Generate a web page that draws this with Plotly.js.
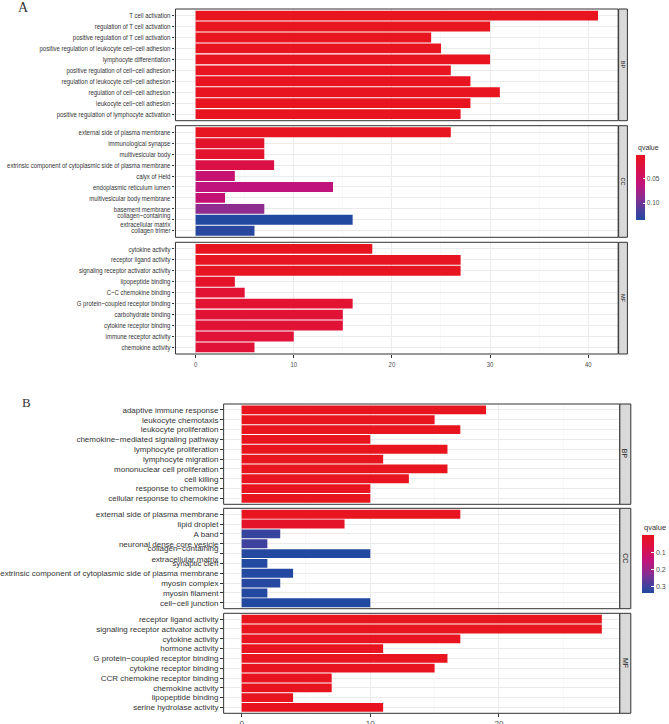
<!DOCTYPE html>
<html>
<head>
<meta charset="utf-8">
<script src="https://cdn.plot.ly/plotly-3.0.1.min.js"></script>
<style>html,body{margin:0;padding:0;background:#fff;}#chart{width:669px;height:724px;}</style>
</head>
<body>
<div id="chart"></div>
<script>
// ---------------- DATA ----------------
// Panel A
var aBpTerms = ["T cell activation","regulation of T cell activation","positive regulation of T cell activation","positive regulation of leukocyte cell\u2212cell adhesion","lymphocyte differentiation","positive regulation of cell\u2212cell adhesion","regulation of leukocyte cell\u2212cell adhesion","regulation of cell\u2212cell adhesion","leukocyte cell\u2212cell adhesion","positive regulation of lymphocyte activation"];
var aBpCounts = [41,30,24,25,30,26,28,31,28,27];
var aBpQ = [0.0005,0.0005,0.001,0.001,0.001,0.001,0.001,0.001,0.001,0.001];

var aCcTerms = ["external side of plasma membrane","immunological synapse","multivesicular body","extrinsic component of cytoplasmic side of plasma membrane","calyx of Held","endoplasmic reticulum lumen","multivesicular body membrane","basement membrane","collagen\u2212containing<br>extracellular matrix","collagen trimer"];
var aCcCounts = [26,7,7,8,4,14,3,7,16,6];
var aCcQ = [0.003,0.01,0.012,0.027,0.054,0.061,0.056,0.088,0.135,0.131];

var aMfTerms = ["cytokine activity","receptor ligand activity","signaling receptor activator activity","lipopeptide binding","C\u2212C chemokine binding","G protein\u2212coupled receptor binding","carbohydrate binding","cytokine receptor binding","immune receptor activity","chemokine activity"];
var aMfCounts = [18,27,27,4,5,16,15,15,10,6];
var aMfQ = [0.002,0.003,0.003,0.008,0.015,0.014,0.016,0.016,0.017,0.018];

var aTicks = [0,10,20,30,40];
var aLegendTicks = [0.05,0.10];
var aLegendLabels = ["0.05","0.10"];

// Panel B
var bBpTerms = ["adaptive immune response","leukocyte chemotaxis","leukocyte proliferation","chemokine\u2212mediated signaling pathway","lymphocyte proliferation","lymphocyte migration","mononuclear cell proliferation","cell killing","response to chemokine","cellular response to chemokine"];
var bBpCounts = [19,15,17,10,16,11,16,13,10,10];
var bBpQ = [0.001,0.001,0.001,0.001,0.001,0.001,0.001,0.002,0.002,0.002];

var bCcTerms = ["external side of plasma membrane","lipid droplet","A band","neuronal dense core vesicle","collagen\u2212containing<br>extracellular matrix","synaptic cleft","extrinsic component of cytoplasmic side of plasma membrane","myosin complex","myosin filament","cell\u2212cell junction"];
var bCcCounts = [17,8,3,2,10,2,4,3,2,10];
var bCcQ = [0.002,0.02,0.31,0.30,0.335,0.335,0.335,0.332,0.335,0.337];

var bMfTerms = ["receptor ligand activity","signaling receptor activator activity","cytokine activity","hormone activity","G protein\u2212coupled receptor binding","cytokine receptor binding","CCR chemokine receptor binding","chemokine activity","lipopeptide binding","serine hydrolase activity"];
var bMfCounts = [28,28,17,11,16,15,7,7,4,11];
var bMfQ = [0.001,0.001,0.002,0.003,0.002,0.002,0.004,0.004,0.006,0.004];

var bTicks = [0,10,20];
var bLegendTicks = [0.1,0.2,0.3];
var bLegendLabels = ["0.1","0.2","0.3"];

var facetLabels = ["BP","CC","MF"];

// ---------------- LAYOUT HELPERS ----------------
var W = 669, H = 724;
function dy(top, bottom){ return [1 - bottom/H, 1 - top/H]; }
function dx(left, right){ return [left/W, right/W]; }
function neg(a){ return a.map(function(v){ return -v; }); }
function maxOf(a){ return Math.max.apply(null, a); }
function minOf(a){ return Math.min.apply(null, a); }

var sans = "Liberation Sans, Arial, Helvetica, sans-serif";
var NARROW = 0.79; // horizontal squeeze for panel A text (narrow face)

var scale = [[0,'#2249A0'],[0.15,'#4A3F9C'],[0.35,'#8E2C8F'],[0.55,'#C0137C'],[0.75,'#D81050'],[1,'#E8141E']];

var panels = [
  {terms:aBpTerms, counts:aBpCounts, q:aBpQ, ca:'coloraxis'},
  {terms:aCcTerms, counts:aCcCounts, q:aCcQ, ca:'coloraxis'},
  {terms:aMfTerms, counts:aMfCounts, q:aMfQ, ca:'coloraxis'},
  {terms:bBpTerms, counts:bBpCounts, q:bBpQ, ca:'coloraxis2'},
  {terms:bCcTerms, counts:bCcCounts, q:bCcQ, ca:'coloraxis2'},
  {terms:bMfTerms, counts:bMfCounts, q:bMfQ, ca:'coloraxis2'}
];

var traces = panels.map(function(p, i){
  var s = i === 0 ? '' : String(i+1);
  return {
    type:'bar', orientation:'h',
    x:p.counts, y:p.terms,
    xaxis:'x'+s, yaxis:'y'+s,
    marker:{color:neg(p.q), coloraxis:p.ca, line:{width:0}},
    hoverinfo:'x+y'
  };
});

var aAllQ = aBpQ.concat(aCcQ, aMfQ);
var bAllQ = bBpQ.concat(bCcQ, bMfQ);
var aMax = maxOf(aBpCounts.concat(aCcCounts, aMfCounts));
var bMax = maxOf(bBpCounts.concat(bCcCounts, bMfCounts));

var layout = {
  width:W, height:H,
  margin:{l:0,r:0,t:0,b:0},
  paper_bgcolor:'#ffffff', plot_bgcolor:'#ffffff',
  showlegend:false,
  bargap:0.1,
  font:{family:sans, color:'#333333'},
  coloraxis:{
    colorscale:scale, cmin:-maxOf(aAllQ), cmax:-minOf(aAllQ),
    colorbar:{x:638/W, xanchor:'left', y:1-155/H, yanchor:'top',
      len:65, lenmode:'pixels', thickness:9, thicknessmode:'pixels',
      outlinewidth:0, xpad:0, ypad:0,
      tickvals:neg(aLegendTicks), ticktext:aLegendLabels,
      ticks:'inside', ticklen:2, tickcolor:'#ffffff', tickwidth:1,
      tickfont:{family:sans, size:6.5, color:'#4d4d4d'}}
  },
  coloraxis2:{
    colorscale:scale, cmin:-maxOf(bAllQ), cmax:-minOf(bAllQ),
    colorbar:{x:644/W, xanchor:'left', y:1-535/H, yanchor:'top',
      len:57.7, lenmode:'pixels', thickness:12, thicknessmode:'pixels',
      outlinewidth:0, xpad:0, ypad:0,
      tickvals:neg(bLegendTicks), ticktext:bLegendLabels,
      ticks:'inside', ticklen:2.5, tickcolor:'#ffffff', tickwidth:1,
      tickfont:{family:sans, size:7, color:'#4d4d4d'}}
  },
  shapes:[], annotations:[]
};

var aX = dx(176, 620), bX = dx(224.3, 621.7);
var yDomains = [dy(9,120.7), dy(125.7,237.3), dy(242.3,354), dy(404,504.3), dy(508.3,608.7), dy(613.3,713.3)];
var stripX = [[620.5,629.3],[620.5,629.3],[620.5,629.3],[621.7,632.7],[621.7,632.7],[621.7,632.7]];

panels.forEach(function(p, i){
  var s = i === 0 ? '' : String(i+1);
  var isA = i < 3;
  var isBottom = (i === 2 || i === 5);
  var xmax = isA ? aMax : bMax;
  var n = p.terms.length;
  layout['xaxis'+s] = {
    domain: isA ? aX : bX,
    anchor:'y'+s,
    range:[-0.05*xmax, 1.05*xmax],
    tickmode:'array', tickvals: isA ? aTicks : bTicks,
    showticklabels:isBottom,
    ticks:isBottom ? 'outside' : '',
    ticklen:2.5, tickcolor:'#333333', tickwidth:1,
    tickfont:{family:sans, size:isA ? 7.6 : 8, color:'#4d4d4d'},
    ticklabelstandoff: isA ? 0 : -1.5,
    showgrid:true, gridcolor:'#EBEBEB', gridwidth:1,
    minor:{dtick:5, tick0:0, showgrid:true, gridcolor:'#F4F4F4', gridwidth:0.6, ticks:''},
    zeroline:false, showline:false, fixedrange:true
  };
  layout['yaxis'+s] = {
    domain:yDomains[i],
    anchor:'x'+s,
    type:'category',
    categoryorder:'array', categoryarray:p.terms,
    tickmode:'array', tickvals:p.terms, ticktext:p.terms,
    range:[n-1+0.6, -0.6],
    ticks:'outside', ticklen:2.5, tickcolor:'#333333', tickwidth:1,
    tickfont:{family:sans, size:isA ? 7.6 : 8, color:'#333333'},
    showgrid:true, gridcolor:'#EBEBEB', gridwidth:1,
    zeroline:false, showline:false, fixedrange:true,
    ticklabelstandoff:0
  };
  layout.shapes.push({type:'rect', xref:'x'+s+' domain', yref:'y'+s+' domain',
    x0:0, x1:1, y0:0, y1:1, line:{color:'#333333', width:1}, fillcolor:'rgba(0,0,0,0)', layer:'above'});
  layout.shapes.push({type:'rect', xref:'paper', yref:'y'+s+' domain',
    x0:stripX[i][0]/W, x1:stripX[i][1]/W, y0:0, y1:1,
    line:{color:'#333333', width:1}, fillcolor:'#D9D9D9', layer:'above'});
  layout.annotations.push({xref:'paper', yref:'y'+s+' domain',
    x:(stripX[i][0]+stripX[i][1])/2/W, y:0.5, text:facetLabels[i%3], textangle:90,
    showarrow:false, xanchor:'center', yanchor:'middle',
    font:{family:sans, size:isA ? 5.5 : 7, color:'#1a1a1a'}});
});

layout.annotations.push({xref:'paper', yref:'paper', x:638/W, y:1-148/H, text:'qvalue',
  showarrow:false, xanchor:'left', yanchor:'middle', font:{family:sans, size:7, color:'#333333'}});
layout.annotations.push({xref:'paper', yref:'paper', x:644/W, y:1-527.5/H, text:'qvalue',
  showarrow:false, xanchor:'left', yanchor:'middle', font:{family:sans, size:7.5, color:'#333333'}});
layout.annotations.push({xref:'paper', yref:'paper', x:16/W, y:1-8/H, text:'A',
  showarrow:false, xanchor:'left', yanchor:'middle', font:{family:'Liberation Serif, Times New Roman, serif', size:14, color:'#333333'}});
layout.annotations.push({xref:'paper', yref:'paper', x:20/W, y:1-402/H, text:'B',
  showarrow:false, xanchor:'left', yanchor:'middle', font:{family:'Liberation Serif, Times New Roman, serif', size:13, color:'#333333'}});

function squeeze(el, f){
  var x = parseFloat(el.getAttribute('x')) || 0;
  var t = el.getAttribute('transform') || '';
  el.setAttribute('transform', t + ' translate(' + x + ',0) scale(' + f + ',1) translate(' + (-x) + ',0)');
}

Plotly.newPlot('chart', traces, layout, {displayModeBar:false, staticPlot:true}).then(function(gd){
  gd.querySelectorAll('.ytick text, .y2tick text, .y3tick text, .x3tick text').forEach(function(el){ squeeze(el, NARROW); });
});
</script>
</body>
</html>
